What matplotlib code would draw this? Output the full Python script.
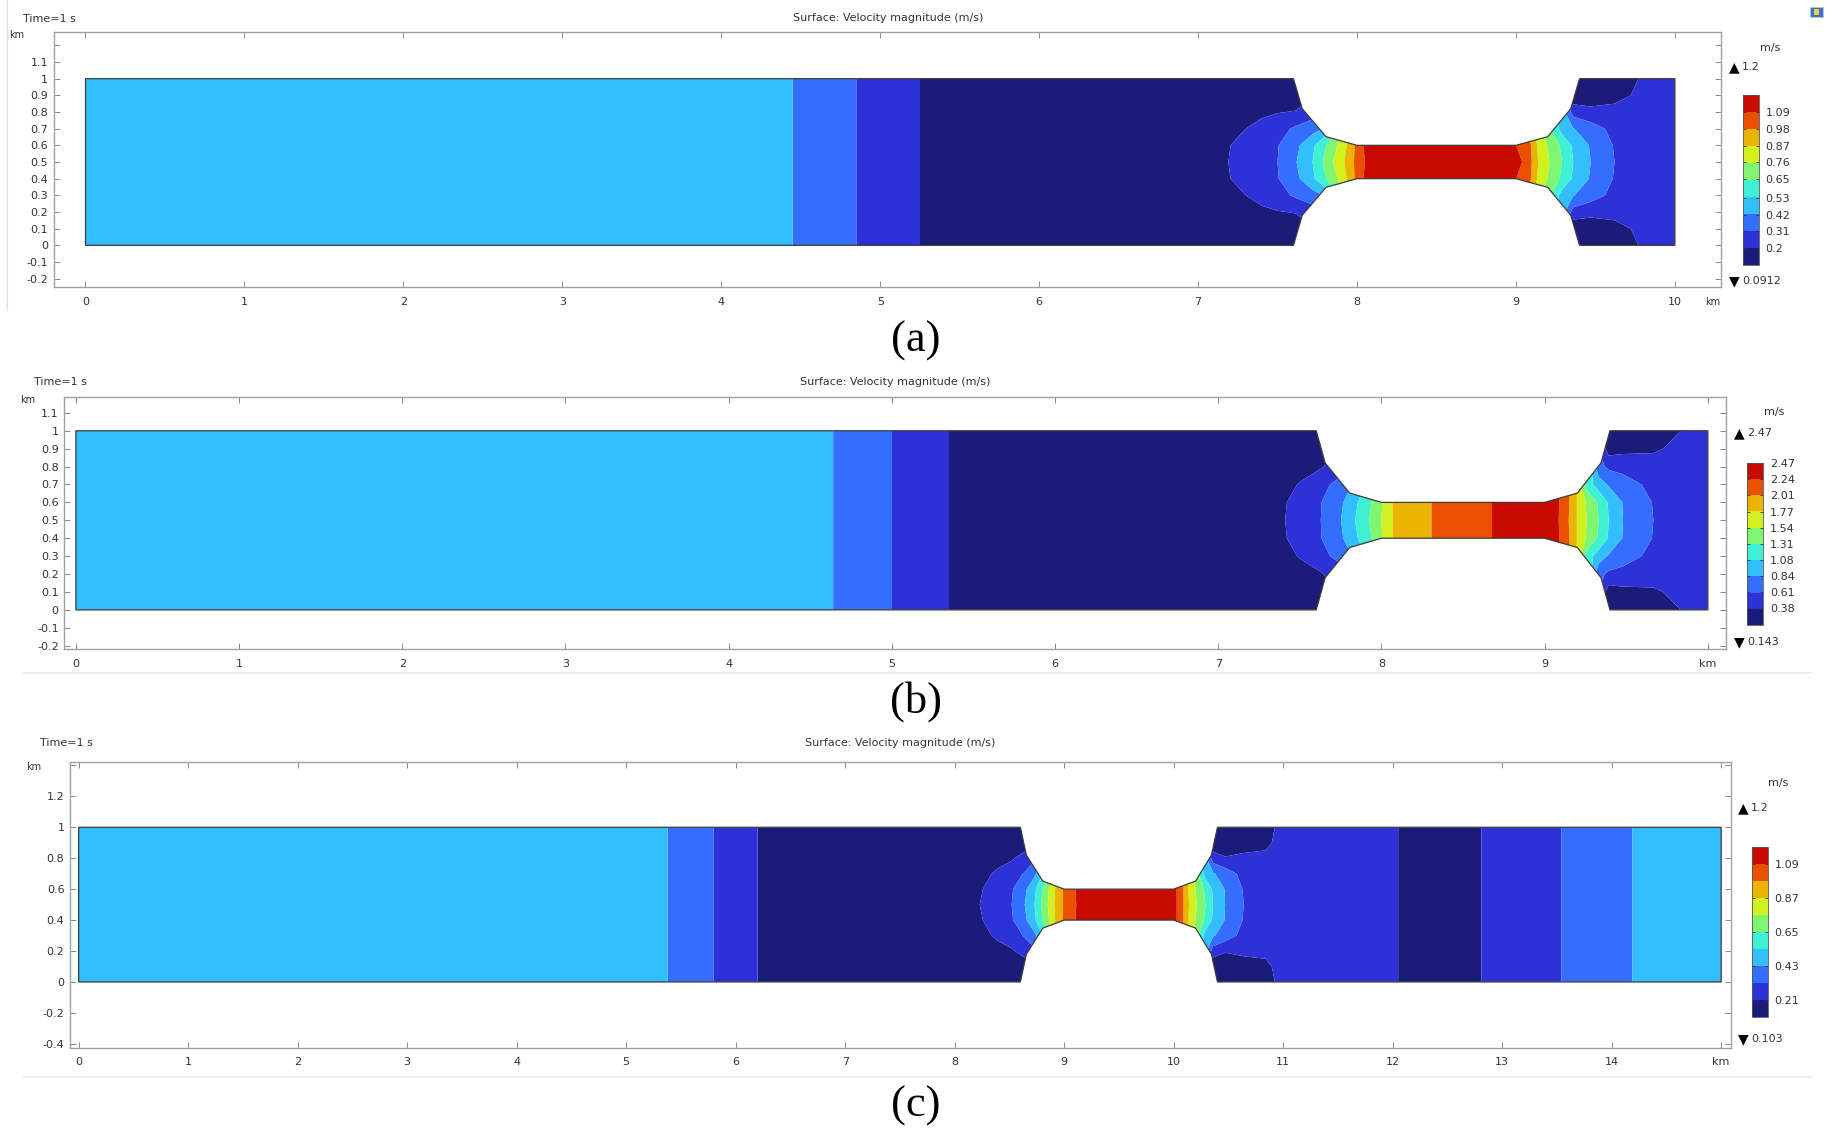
import numpy as np
import matplotlib
matplotlib.use("Agg")
import matplotlib.pyplot as plt
from matplotlib.patches import Polygon, Rectangle
from matplotlib.lines import Line2D

W, H = 1832, 1131

# COMSOL rainbow, 10 bands, slowest first
band_colors = ['#1b1b7a', '#2d32d8', '#336eff', '#32beff', '#40f0d2',
               '#80f570', '#d2f01e', '#ebb400', '#eb5000', '#c80a00']

# distance (km) of each table row from the channel axis y = 0.5 km
axis_dist = [0.0, 0.1, 0.2, 0.3, 0.4, 0.5]

# constriction outline, x measured from where the walls start to close in
neck_dx = [0.0, 0.055, 0.205, 0.40, 1.40, 1.60, 1.745, 1.80]
neck_top = [1.0, 0.82, 0.652, 0.60, 0.60, 0.652, 0.82, 1.0]

# ---------------- (a) ----------------
a_length, a_neck = 10.0, 7.6
a_vmin, a_vmax = 0.0912, 1.2
a_cb_labels = ['0.2', '0.31', '0.42', '0.53', '0.65', '0.76', '0.87', '0.98', '1.09']
# speed (m/s) that does not change across the channel
a_strip_x = [0.0, 4.40, 4.50, 4.80, 4.90, 5.20, 5.30]
a_strip_v = [0.479, 0.479, 0.368, 0.368, 0.258, 0.258, 0.147]
# speed (m/s) around the constriction, one row per axis_dist
a_x = [7.00, 7.19, 7.30, 7.40, 7.50, 7.62, 7.72, 7.785, 7.85, 7.92, 7.98, 8.05,
       8.50, 9.04, 9.10, 9.14, 9.21, 9.29, 9.36, 9.47, 9.62, 9.80, 10.0]
a_v = [
    [0.158, 0.202, 0.241, 0.278, 0.313, 0.424, 0.535, 0.646, 0.757, 0.867, 0.978, 1.089,
     1.156, 1.089, 0.978, 0.867, 0.757, 0.646, 0.535, 0.424, 0.313, 0.269, 0.258],
    [0.158, 0.197, 0.235, 0.269, 0.307, 0.402, 0.513, 0.612, 0.712, 0.834, 0.967, 1.111,
     1.156, 1.084, 0.967, 0.845, 0.734, 0.623, 0.518, 0.413, 0.305, 0.269, 0.258],
    [0.152, 0.174, 0.202, 0.230, 0.269, 0.335, 0.380, 0.424, 0.590, 0.757, 0.923, 1.145,
     1.156, 1.067, 0.923, 0.790, 0.668, 0.490, 0.429, 0.363, 0.280, 0.263, 0.258],
    [0.147, 0.147, 0.169, 0.185, 0.197, 0.208, 0.258, 0.313, 0.479, 0.646, 0.867, 1.145,
     1.156, 1.067, 0.867, 0.757, 0.646, 0.479, 0.269, 0.235, 0.246, 0.258, 0.258],
    [0.147, 0.136, 0.141, 0.147, 0.147, 0.147, 0.202, 0.258, 0.424, 0.646, 0.867, 1.145,
     1.156, 1.067, 0.867, 0.757, 0.646, 0.424, 0.124, 0.136, 0.158, 0.235, 0.258],
    [0.147, 0.136, 0.136, 0.130, 0.124, 0.124, 0.147, 0.202, 0.424, 0.646, 0.867, 1.145,
     1.156, 1.067, 0.867, 0.757, 0.646, 0.424, 0.124, 0.147, 0.147, 0.213, 0.246],
]

# ---------------- (b) ----------------
b_length, b_neck = 10.0, 7.6
b_vmin, b_vmax = 0.143, 2.47
b_cb_labels = ['0.38', '0.61', '0.84', '1.08', '1.31', '1.54', '1.77', '2.01', '2.24', '2.47']
b_strip_x = [0.0, 4.60, 4.68, 4.96, 5.04, 5.31, 5.39]
b_strip_v = [0.957, 0.957, 0.725, 0.725, 0.492, 0.492, 0.259]
b_x = [7.20, 7.41, 7.50, 7.628, 7.752, 7.838, 7.925, 7.999, 8.068, 8.307, 8.677,
       8.88, 9.086, 9.147, 9.197, 9.257, 9.331, 9.392, 9.48, 9.666, 9.85, 10.0]
b_v = [
    [0.283, 0.376, 0.471, 0.608, 0.841, 1.074, 1.307, 1.539, 1.772, 2.005, 2.237,
     2.423, 2.237, 2.005, 1.772, 1.539, 1.307, 1.074, 0.841, 0.608, 0.515, 0.492],
    [0.283, 0.364, 0.464, 0.601, 0.806, 1.027, 1.260, 1.516, 1.772, 2.005, 2.237,
     2.423, 2.249, 2.028, 1.772, 1.516, 1.272, 1.051, 0.829, 0.597, 0.515, 0.492],
    [0.271, 0.329, 0.387, 0.550, 0.678, 0.888, 1.144, 1.423, 1.772, 2.005, 2.237,
     2.423, 2.237, 2.051, 1.772, 1.213, 0.957, 0.818, 0.701, 0.550, 0.504, 0.492],
    [0.259, 0.271, 0.306, 0.352, 0.515, 0.725, 0.957, 1.307, 1.772, 2.005, 2.237,
     2.423, 2.237, 2.005, 1.772, 1.307, 0.678, 0.562, 0.539, 0.480, 0.492, 0.492],
    [0.259, 0.248, 0.248, 0.259, 0.422, 0.608, 0.957, 1.307, 1.772, 2.005, 2.237,
     2.423, 2.237, 2.005, 1.772, 1.307, 0.608, 0.259, 0.306, 0.341, 0.446, 0.492],
    [0.259, 0.236, 0.224, 0.213, 0.376, 0.608, 0.957, 1.307, 1.772, 2.005, 2.237,
     2.423, 2.237, 2.005, 1.772, 1.307, 0.608, 0.259, 0.259, 0.259, 0.387, 0.469],
]

# ---------------- (c) ----------------
c_length, c_neck = 15.0, 8.6
c_vmin, c_vmax = 0.103, 1.2
c_cb_labels = ['0.21', '0.43', '0.65', '0.87', '1.09']
c_strip_x = [0.0, 5.34, 5.42, 5.76, 5.84, 6.16, 6.24]
c_strip_v = [0.487, 0.487, 0.377, 0.377, 0.268, 0.268, 0.158]
c_x = [8.00, 8.23, 8.40, 8.52, 8.64, 8.73, 8.79, 8.85, 8.91, 8.99, 9.11,
       9.60, 10.03, 10.09, 10.14, 10.21, 10.29, 10.36, 10.47, 10.64, 10.84, 11.0]
c_v = [
    [0.169, 0.213, 0.277, 0.322, 0.432, 0.542, 0.652, 0.761, 0.871, 0.981, 1.090,
     1.156, 1.090, 0.981, 0.871, 0.761, 0.652, 0.542, 0.432, 0.322, 0.273, 0.273],
    [0.169, 0.202, 0.268, 0.311, 0.410, 0.520, 0.630, 0.739, 0.860, 0.981, 1.096,
     1.156, 1.090, 0.975, 0.860, 0.745, 0.630, 0.525, 0.427, 0.315, 0.273, 0.273],
    [0.163, 0.185, 0.229, 0.262, 0.333, 0.410, 0.520, 0.652, 0.816, 0.981, 1.101,
     1.156, 1.090, 0.959, 0.827, 0.695, 0.498, 0.443, 0.383, 0.284, 0.268, 0.273],
    [0.158, 0.158, 0.185, 0.202, 0.246, 0.300, 0.410, 0.542, 0.706, 0.981, 1.101,
     1.156, 1.090, 0.926, 0.761, 0.652, 0.476, 0.268, 0.218, 0.235, 0.246, 0.273],
    [0.158, 0.147, 0.152, 0.158, 0.169, 0.235, 0.322, 0.487, 0.652, 0.981, 1.101,
     1.156, 1.090, 0.926, 0.761, 0.652, 0.432, 0.136, 0.169, 0.169, 0.180, 0.273],
    [0.158, 0.147, 0.141, 0.136, 0.136, 0.213, 0.322, 0.487, 0.652, 0.981, 1.101,
     1.156, 1.090, 0.926, 0.761, 0.652, 0.432, 0.136, 0.158, 0.158, 0.158, 0.262],
]
# downstream strips after the constriction
c_tail_x = [12.00, 12.10, 12.76, 12.86, 13.50, 13.58, 14.15, 14.23, 15.0]
c_tail_v = [0.268, 0.158, 0.158, 0.268, 0.268, 0.377, 0.377, 0.487, 0.487]

# axis ticks
a_yticks = [-0.2, -0.1, 0, 0.1, 0.2, 0.3, 0.4, 0.5, 0.6, 0.7, 0.8, 0.9, 1.0, 1.1, 1.2]
a_ylabels = ['-0.2', '-0.1', '0', '0.1', '0.2', '0.3', '0.4', '0.5', '0.6', '0.7',
             '0.8', '0.9', '1', '1.1', '']
b_yticks = a_yticks[:-1]
b_ylabels = a_ylabels[:-1]
c_yticks = [-0.4, -0.2, 0, 0.2, 0.4, 0.6, 0.8, 1.0, 1.2, 1.4]
c_ylabels = ['-0.4', '-0.2', '0', '0.2', '0.4', '0.6', '0.8', '1', '1.2', '']
a_xlabels = [str(i) for i in range(11)]
b_xlabels = [str(i) for i in range(10)] + ['km']
c_xlabels = [str(i) for i in range(15)] + ['km']

TXT = '#333333'
SPINE = '#a0a0a0'


def box(l, t, r, b):
    return [l / W, 1 - b / H, (r - l) / W, (b - t) / H]


def ftext(x, y, s, **kw):
    kw.setdefault('fontsize', 8)
    kw.setdefault('color', TXT)
    kw.setdefault('va', 'center')
    fig.text(x / W, 1 - y / H, s, **kw)


def range_marks(x, y_top, y_bot, vmax_txt, vmin_txt):
    # the black triangles COMSOL puts above and below the colour legend
    ftext(x, y_top, '\u25b2', fontsize=10, color='black')
    ftext(x + 13, y_top, vmax_txt)
    ftext(x, y_bot, '\u25bc', fontsize=10, color='black')
    ftext(x + 13, y_bot, vmin_txt)


def grid_rows(strip_x, strip_v, x, rows, tail_x=(), tail_v=()):
    gx = np.concatenate([strip_x, x, tail_x])
    half = np.array([list(strip_v) + list(r) + list(tail_v) for r in rows])
    d = np.array(axis_dist)
    gy = np.concatenate([0.5 - d[::-1], 0.5 + d[1:]])
    gz = np.vstack([half[::-1], half[1:]])
    return gx, gy, gz


def draw_panel(rect, xlim, ylim, length, neck, vmin, vmax, gx, gy, gz,
               yticks, ylabels, xlabels, cb_rect, cb_labels):
    ax = fig.add_axes(rect)
    levels = np.linspace(vmin, vmax, 11)
    cs = ax.contourf(gx, gy, gz, levels=levels, colors=band_colors, antialiased=True)

    top = [(neck + dx, y) for dx, y in zip(neck_dx, neck_top)]
    bottom = [(neck + dx, 1 - y) for dx, y in zip(neck_dx, neck_top)][::-1]
    outline = [(0, 0), (0, 1)] + top + [(length, 1), (length, 0)] + bottom
    wall = Polygon(outline, closed=True, fill=False, edgecolor='#3c3c3c',
                   lw=0.9, zorder=3)
    ax.add_patch(wall)
    cs.set_clip_path(wall)

    ax.set_xlim(*xlim)
    ax.set_ylim(*ylim)
    ax.set_xticks(range(len(xlabels)), labels=xlabels)
    ax.set_yticks(yticks, labels=ylabels)
    ax.tick_params(direction='in', top=True, right=True, length=4, width=0.7,
                   color='#8a8a8a', labelsize=8, labelcolor=TXT)
    ax.tick_params(axis='x', pad=7)
    ax.tick_params(axis='y', pad=4)
    for sp in ax.spines.values():
        sp.set_edgecolor(SPINE)
        sp.set_linewidth(1.0)

    cax = fig.add_axes(cb_rect)
    cb = fig.colorbar(cs, cax=cax)
    cb.set_ticks([float(s) for s in cb_labels], labels=cb_labels)
    cax.tick_params(direction='in', length=2.5, width=0.6, color='#333333',
                    labelsize=8, labelcolor=TXT, pad=5, left=True, right=True)
    cb.outline.set_edgecolor('#555555')
    cb.outline.set_linewidth(0.6)
    return ax


fig = plt.figure(figsize=(W / 100, H / 100), dpi=100)

# (a)
gx, gy, gz = grid_rows(a_strip_x, a_strip_v, a_x, a_v)
draw_panel(box(53.7, 32, 1721, 287), (-0.2, 10.29), (-0.25, 1.28), a_length, a_neck,
           a_vmin, a_vmax, gx, gy, gz, a_yticks, a_ylabels, a_xlabels,
           box(1742.7, 95, 1758.7, 265), a_cb_labels)
ftext(23, 19, 'Time=1 s')
ftext(888, 18, 'Surface: Velocity magnitude (m/s)', ha='center')
ftext(17, 35, 'km', fontsize=7, ha='center')
ftext(1713, 302, 'km', fontsize=7, ha='center')
ftext(1770, 48, 'm/s', ha='center')
range_marks(1729, 67, 281, '1.2', '0.0912')
ftext(916, 341, '(a)', fontsize=32, family='Liberation Serif', color='black', ha='center')

# (b)
gx, gy, gz = grid_rows(b_strip_x, b_strip_v, b_x, b_v)
draw_panel(box(64.3, 396.7, 1726, 649.3), (-0.071, 10.111), (-0.22, 1.19), b_length,
           b_neck, b_vmin, b_vmax, gx, gy, gz, b_yticks, b_ylabels, b_xlabels,
           box(1747, 462.7, 1763, 625), b_cb_labels)
ftext(34, 382, 'Time=1 s')
ftext(895, 382, 'Surface: Velocity magnitude (m/s)', ha='center')
ftext(28, 400, 'km', fontsize=7, ha='center')
ftext(1774, 412, 'm/s', ha='center')
range_marks(1734, 433, 642, '2.47', '0.143')
ftext(916, 702, '(b)', fontsize=32, family='Liberation Serif', color='black', ha='center')

# (c)
gx, gy, gz = grid_rows(c_strip_x, c_strip_v, c_x, c_v, c_tail_x, c_tail_v)
draw_panel(box(70, 762.3, 1730.7, 1047.7), (-0.079, 15.087), (-0.425, 1.42), c_length,
           c_neck, c_vmin, c_vmax, gx, gy, gz, c_yticks, c_ylabels, c_xlabels,
           box(1752, 846.7, 1767.7, 1016.7), c_cb_labels)
ftext(40, 743, 'Time=1 s')
ftext(900, 743, 'Surface: Velocity magnitude (m/s)', ha='center')
ftext(34, 767, 'km', fontsize=7, ha='center')
ftext(1778, 783, 'm/s', ha='center')
range_marks(1738, 808, 1039, '1.2', '0.103')
ftext(916, 1106, '(c)', fontsize=32, family='Liberation Serif', color='black', ha='center')

# faint screenshot edges
fig.add_artist(Line2D([7 / W, 7 / W], [1, 1 - 310 / H], color='#d3e4f4', lw=1))
for yy in (673, 1077):
    fig.add_artist(Line2D([23 / W, 1811 / W], [1 - yy / H] * 2, color='#e2edf8', lw=1.2))
fig.add_artist(Rectangle((1810 / W, 1 - 17 / H), 13 / W, 10 / H,
                         facecolor='#3f72c8', edgecolor='#b8c8dc', lw=0.6))
fig.add_artist(Rectangle((1814 / W, 1 - 15 / H), 5 / W, 6 / H,
                         facecolor='#f0d040', edgecolor='none'))

fig.savefig('out.png', dpi=100)
